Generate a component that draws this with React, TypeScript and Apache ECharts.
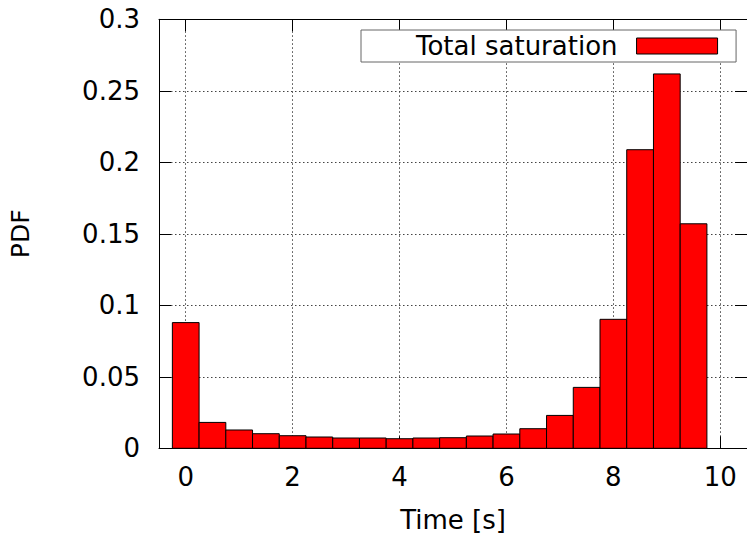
import React, { useEffect, useRef } from "react";
import * as echarts from "echarts";

// Histogram of total saturation time: bin centres (s) and probability density.
const binCenters = [0, 0.5, 1, 1.5, 2, 2.5, 3, 3.5, 4, 4.5, 5, 5.5, 6, 6.5, 7, 7.5, 8, 8.5, 9, 9.5];
const pdfValues = [
  0.0879, 0.0181, 0.0128, 0.0102, 0.0088, 0.0079, 0.0072, 0.0072, 0.0067, 0.0072,
  0.0074, 0.0086, 0.01, 0.0137, 0.023, 0.0426, 0.0902, 0.2088, 0.2618, 0.157,
];
const binWidth = 0.5;
const xTicks = [0, 2, 4, 6, 8, 10];
const seriesName = "Total saturation";

const FONT = "DejaVu Sans";
const FS = 26;

export default function App() {
  const ref = useRef<HTMLDivElement>(null);

  useEffect(() => {
    if (!ref.current) return;
    const chart = echarts.init(ref.current, null, { renderer: "svg" });

    const gridLine = {
      show: true,
      lineStyle: { color: "#444", width: 1, type: [1.5, 2.5] as number[] },
    };
    const blackLine = { show: true, onZero: false, lineStyle: { color: "#000", width: 1 } };
    const inTick = { show: true, inside: true, length: 12, lineStyle: { color: "#000", width: 1 } };

    const xBase = { type: "value" as const, min: -0.5, max: 10.5 };
    const yBase = { type: "value" as const, min: 0, max: 0.3, interval: 0.05 };

    chart.setOption({
      animation: false,
      backgroundColor: "#fff",
      textStyle: { fontFamily: FONT },
      grid: { left: 157, top: 19.3, right: -4, bottom: 90.7, containLabel: false },
      legend: {
        data: [{ name: seriesName, icon: "rect" }],
        left: 361,
        top: 30,
        orient: "horizontal",
        align: "right",
        itemWidth: 81,
        itemHeight: 16,
        padding: [3, 18, 3, 55],
        backgroundColor: "#fff",
        borderColor: "#666",
        borderWidth: 1,
        borderRadius: 0,
        itemStyle: { color: "#ff0000", borderColor: "#000", borderWidth: 1 },
        textStyle: {
          fontFamily: FONT,
          fontSize: FS,
          color: "#000",
          lineHeight: 26,
          padding: [0, 14, 0, 0],
        },
        selectedMode: false,
      },
      xAxis: [
        {
          ...xBase,
          position: "bottom",
          name: "Time [s]",
          nameLocation: "middle",
          nameGap: 59,
          nameTextStyle: { fontFamily: FONT, fontSize: FS, color: "#000" },
          axisLine: blackLine,
          axisTick: { ...inTick, customValues: xTicks },
          axisLabel: {
            customValues: xTicks,
            margin: 16,
            fontFamily: FONT,
            fontSize: FS,
            color: "#000",
          },
          splitLine: gridLine,
        },
        {
          ...xBase,
          position: "top",
          axisLine: blackLine,
          axisTick: { ...inTick, customValues: xTicks },
          axisLabel: { show: false },
          splitLine: { show: false },
        },
      ],
      yAxis: [
        {
          ...yBase,
          position: "left",
          name: "PDF",
          nameLocation: "middle",
          nameGap: 126,
          nameTextStyle: { fontFamily: FONT, fontSize: FS - 1, color: "#000" },
          axisLine: blackLine,
          axisTick: inTick,
          axisLabel: { margin: 19, fontFamily: FONT, fontSize: FS, color: "#000" },
          splitLine: gridLine,
        },
        {
          ...yBase,
          position: "right",
          axisLine: blackLine,
          axisTick: inTick,
          axisLabel: { show: false },
          splitLine: { show: false },
        },
      ],
      series: [
        {
          name: seriesName,
          type: "custom",
          xAxisIndex: 0,
          yAxisIndex: 0,
          itemStyle: { color: "#ff0000", borderColor: "#000", borderWidth: 1 },
          data: binCenters.map((c, i) => [c, pdfValues[i]]),
          renderItem: (_params: any, api: any) => {
            const x = api.value(0);
            const y = api.value(1);
            const topLeft = api.coord([x - binWidth / 2, y]);
            const bottomRight = api.coord([x + binWidth / 2, 0]);
            return {
              type: "rect",
              shape: {
                x: topLeft[0],
                y: topLeft[1],
                width: bottomRight[0] - topLeft[0],
                height: bottomRight[1] - topLeft[1],
              },
              style: { fill: "#ff0000", stroke: "#000", lineWidth: 1 },
            };
          },
        },
      ],
    });

    return () => chart.dispose();
  }, []);

  return (
    <div
      ref={ref}
      style={{ position: "absolute", left: 0, top: 0, width: 747, height: 539 }}
    />
  );
}
